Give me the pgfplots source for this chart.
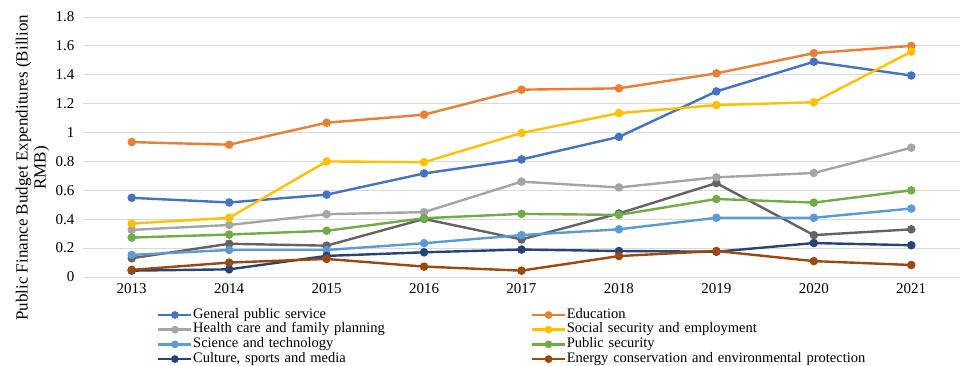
\documentclass[border=0pt]{standalone}
\usepackage{pgfplots}
\pgfplotsset{compat=1.18}
\usepackage{fontspec}
\setmainfont{Liberation Serif}
\definecolor{cGen}{HTML}{4472C4}
\definecolor{cEdu}{HTML}{ED7D31}
\definecolor{cHea}{HTML}{A5A5A5}
\definecolor{cSoc}{HTML}{FFC000}
\definecolor{cSci}{HTML}{5B9BD5}
\definecolor{cPub}{HTML}{70AD47}
\definecolor{cCul}{HTML}{264478}
\definecolor{cEne}{HTML}{9E480E}
\definecolor{cDg}{HTML}{636363}
\definecolor{cGrid}{HTML}{D9D9D9}
\begin{document}
\begin{tikzpicture}
\begin{axis}[
  scale only axis,
  width=877pt, height=260pt,
  xmin=2012.5, xmax=2021.5,
  ymin=0, ymax=1.8,
  xtick={2013,...,2021},
  ytick={0,0.2,...,1.8},
  x tick label style={/pgf/number format/1000 sep={}},
  /pgf/number format/assume math mode=true,
  tick label style={font=\fontsize{15}{17}\selectfont, text=black},
  ymajorgrids, grid style={cGrid, line width=0.9pt},
  axis x line*=bottom, axis y line*=left,
  x axis line style={cGrid, line width=0.9pt, -},
  y axis line style={draw=none},
  major tick length=0pt,
  yticklabel style={anchor=east, xshift=-5pt},
  xticklabel style={anchor=north, yshift=-3pt},
  ylabel={Public Finance Budget Expenditures (Billion\\RMB)},
  ylabel style={align=center, font=\fontsize{17}{18}\selectfont, at={(ticklabel cs:0.42)}, anchor=south, inner sep=3pt},
  every axis plot/.append style={line width=2.4pt, mark=*, mark size=3pt},
  legend columns=2,
  legend cell align=left,
  legend style={draw=none, fill=none, inner sep=0pt, at={(0.0844,-0.117)}, anchor=north west,
     font=\fontsize{14.5}{14.5}\selectfont,
     nodes={inner sep=0.6pt, text height=10pt, text depth=3.5pt},
     /tikz/every even column/.append style={text width=337pt, column sep=0pt}},
  legend image code/.code={\draw[mark repeat=2,mark phase=2,line width=2.4pt,mark size=2.6pt] plot coordinates {(0pt,0pt) (16.5pt,0pt) (33pt,0pt)};},
]
\addplot[cDg, forget plot] coordinates {(2013,0.13) (2014,0.23) (2015,0.217) (2016,0.402) (2017,0.26) (2018,0.44) (2019,0.65) (2020,0.29) (2021,0.33)};
\addplot[cGen] coordinates {(2013,0.548) (2014,0.516) (2015,0.57) (2016,0.717) (2017,0.814) (2018,0.97) (2019,1.285) (2020,1.49) (2021,1.395)};
\addlegendentry{General public service}
\addplot[cEdu] coordinates {(2013,0.934) (2014,0.916) (2015,1.068) (2016,1.124) (2017,1.297) (2018,1.306) (2019,1.41) (2020,1.55) (2021,1.6)};
\addlegendentry{Education}
\addplot[cHea] coordinates {(2013,0.326) (2014,0.36) (2015,0.435) (2016,0.449) (2017,0.66) (2018,0.62) (2019,0.69) (2020,0.72) (2021,0.895)};
\addlegendentry{Health care and family planning}
\addplot[cSoc] coordinates {(2013,0.37) (2014,0.41) (2015,0.8) (2016,0.795) (2017,0.997) (2018,1.135) (2019,1.19) (2020,1.21) (2021,1.56)};
\addlegendentry{Social security and employment}
\addplot[cSci] coordinates {(2013,0.153) (2014,0.187) (2015,0.187) (2016,0.234) (2017,0.29) (2018,0.33) (2019,0.41) (2020,0.41) (2021,0.474)};
\addlegendentry{Science and technology}
\addplot[cPub] coordinates {(2013,0.273) (2014,0.294) (2015,0.32) (2016,0.407) (2017,0.437) (2018,0.43) (2019,0.54) (2020,0.515) (2021,0.6)};
\addlegendentry{Public security}
\addplot[cCul] coordinates {(2013,0.044) (2014,0.053) (2015,0.146) (2016,0.171) (2017,0.19) (2018,0.18) (2019,0.175) (2020,0.235) (2021,0.22)};
\addlegendentry{Culture, sports and media}
\addplot[cEne] coordinates {(2013,0.049) (2014,0.1) (2015,0.125) (2016,0.072) (2017,0.044) (2018,0.145) (2019,0.18) (2020,0.11) (2021,0.083)};
\addlegendentry{Energy conservation and environmental protection}
\end{axis}
\pgfresetboundingbox
\path (current axis.south west) ++(-83pt,-89pt) rectangle ([shift={(9pt,17pt)}]current axis.north east);
\end{tikzpicture}
\end{document}
